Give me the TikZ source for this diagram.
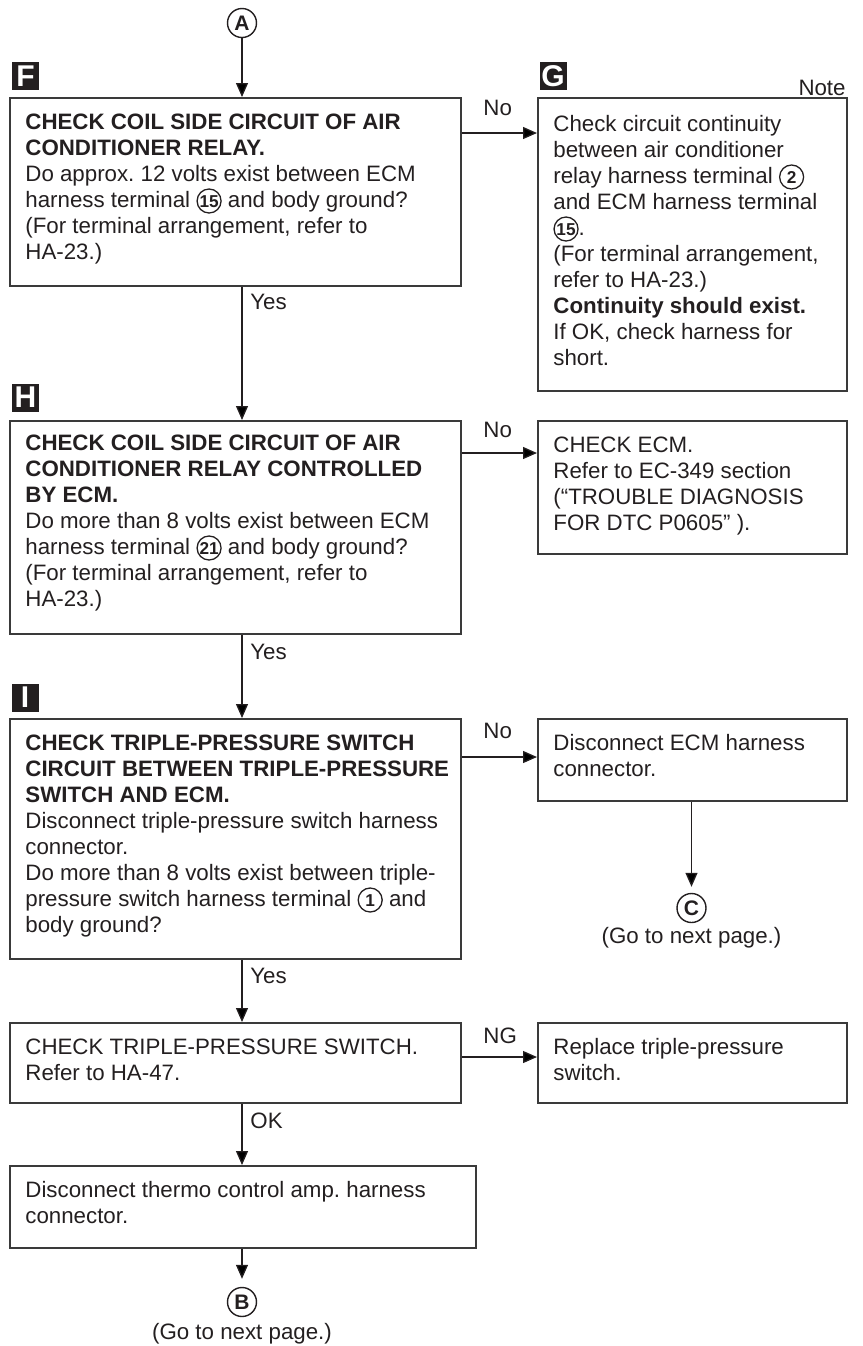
\documentclass[tikz,border=0pt]{standalone}
\usepackage{fontspec}
\setmainfont{Liberation Sans}
\usetikzlibrary{arrows.meta, positioning, calc}
\definecolor{inkDark}{HTML}{231F20}
\definecolor{lineDark}{HTML}{3A3A3A}
\frenchspacing
\newcommand{\bodyfont}{\fontsize{11.15}{13}\selectfont}
% circled terminal number inside running text
\newcommand{\cnum}[1]{\tikz[baseline=(cn.base)]\node[circle, draw=inkDark,
  line width=0.65pt, inner sep=0pt, minimum size=12pt, text height=6pt,
  text depth=0pt, font=\bfseries\fontsize{8.6}{8.6}\selectfont] (cn) {#1};}
\tikzset{
  flowarrow/.style={-{Triangle[length=7pt, width=6pt]}, draw=inkDark, line width=0.65pt},
  stepbox/.style={rectangle, draw=lineDark, line width=1pt, anchor=north west, inner sep=0pt},
  boxtext/.style={anchor=base west, inner sep=0pt, text=inkDark, font=\bodyfont},
  marker/.style={rectangle, fill=inkDark, text=white, inner sep=0pt, minimum width=13.5pt,
                 minimum height=14pt, font=\bfseries\fontsize{15}{15}\selectfont},
  connector/.style={circle, draw=inkDark, line width=0.7pt, inner sep=0pt, minimum size=14.5pt,
                    text=inkDark, font=\bfseries\fontsize{10.5}{10.5}\selectfont},
  lbl/.style={anchor=base west, inner sep=0pt, text=inkDark, font=\bodyfont},
}

\begin{document}
\begin{tikzpicture}[x=0.5pt, y=-0.5pt, font=\bodyfont]
  \useasboundingbox (0,0) rectangle (863,1346);

  % entry A, step F
  \node[connector] (A) at (242,23) {A};
  \node[marker] (mF) at (25.5,76) {F};
  \node[stepbox, minimum width=225.5pt, minimum height=94pt] (F) at (9,97) {};
  \node[boxtext] (Ft) at ([shift={(16,32)}]F.north west) {\parbox[t]{215pt}{\raggedright
    \textbf{CHECK COIL SIDE CIRCUIT OF AIR}\\
    \textbf{CONDITIONER RELAY.}\\
    Do approx. 12 volts exist between ECM\\
    harness terminal \cnum{15} and body ground?\\
    (For terminal arrangement, refer to\\
    HA-23.)}};

  % step G
  \node[marker] (mG) at (553,76) {G};
  \node[lbl, anchor=base east] (note) at (846,95) {Note};
  \node[stepbox, minimum width=154.5pt, minimum height=146.5pt] (G) at (537,97) {};
  \node[boxtext] (Gt) at ([shift={(16,34)}]G.north west) {\parbox[t]{145pt}{\raggedright
    Check circuit continuity\\
    between air conditioner\\
    relay harness terminal \cnum{2}\\
    and ECM harness terminal\\
    \cnum{15}.\\
    (For terminal arrangement,\\
    refer to HA-23.)\\
    \textbf{Continuity should exist.}\\
    If OK, check harness for\\
    short.}};

  % step H
  \node[marker] (mH) at (25.5,397.5) {H};
  \node[stepbox, minimum width=225.5pt, minimum height=106.5pt] (H) at (9,420) {};
  \node[boxtext] (Ht) at ([shift={(16,30)}]H.north west) {\parbox[t]{215pt}{\raggedright
    \textbf{CHECK COIL SIDE CIRCUIT OF AIR}\\
    \textbf{CONDITIONER RELAY CONTROLLED}\\
    \textbf{BY ECM.}\\
    Do more than 8 volts exist between ECM\\
    harness terminal \cnum{21} and body ground?\\
    (For terminal arrangement, refer to\\
    HA-23.)}};
  \node[stepbox, minimum width=154.5pt, minimum height=66.5pt] (ecm) at (537,420) {};
  \node[boxtext] (ecmt) at ([shift={(16,32)}]ecm.north west) {\parbox[t]{145pt}{\raggedright
    CHECK ECM.\\
    Refer to EC-349 section\\
    (“TROUBLE DIAGNOSIS\\
    FOR DTC P0605” ).}};

  % step I
  \node[marker] (mI) at (25,697.5) {I};
  \node[stepbox, minimum width=225.5pt, minimum height=120pt] (I) at (9,718) {};
  \node[boxtext] (It) at ([shift={(16,32)}]I.north west) {\parbox[t]{215pt}{\raggedright
    \textbf{CHECK TRIPLE-PRESSURE SWITCH}\\
    \textbf{CIRCUIT BETWEEN TRIPLE-PRESSURE}\\
    \textbf{SWITCH AND ECM.}\\
    Disconnect triple-pressure switch harness\\
    connector.\\
    Do more than 8 volts exist between triple-\\
    pressure switch harness terminal \cnum{1} and\\
    body ground?}};
  \node[stepbox, minimum width=154.5pt, minimum height=41pt] (dis) at (537,718) {};
  \node[boxtext] (dist) at ([shift={(16,32)}]dis.north west) {\parbox[t]{145pt}{\raggedright
    Disconnect ECM harness\\
    connector.}};
  \node[connector] (C) at (691.5,908) {C};
  \node[lbl, anchor=base] (goC) at (691.5,943) {(Go to next page.)};

  % switch check and thermo amp
  \node[stepbox, minimum width=225.5pt, minimum height=40pt] (sw) at (9,1022) {};
  \node[boxtext] (swt) at ([shift={(16,32)}]sw.north west) {\parbox[t]{215pt}{\raggedright
    CHECK TRIPLE-PRESSURE SWITCH.\\
    Refer to HA-47.}};
  \node[stepbox, minimum width=154.5pt, minimum height=40pt] (rep) at (537,1022) {};
  \node[boxtext] (rept) at ([shift={(16,32)}]rep.north west) {\parbox[t]{145pt}{\raggedright
    Replace triple-pressure\\
    switch.}};
  \node[stepbox, minimum width=233pt, minimum height=41pt] (amp) at (9,1165) {};
  \node[boxtext] (ampt) at ([shift={(16,32)}]amp.north west) {\parbox[t]{225pt}{\raggedright
    Disconnect thermo control amp. harness\\
    connector.}};
  \node[connector] (B) at (242,1302) {B};
  \node[lbl, anchor=base] (goB) at (242,1339) {(Go to next page.)};

  % branch labels
  \node[lbl] (noF) at (483,115) {No};
  \node[lbl] (noH) at (483,437) {No};
  \node[lbl] (noI) at (483,738) {No};
  \node[lbl] (ngS) at (483,1043) {NG};
  \node[lbl] (yesF) at (250,309) {Yes};
  \node[lbl] (yesH) at (250,659) {Yes};
  \node[lbl] (yesI) at (250,983) {Yes};
  \node[lbl] (okS) at (250,1128) {OK};

  % connectors
  \draw[flowarrow] (A) -- (A |- F.north);
  \draw[flowarrow] (A |- F.south) -- (A |- H.north);
  \draw[flowarrow] (A |- H.south) -- (A |- I.north);
  \draw[flowarrow] (A |- I.south) -- (A |- sw.north);
  \draw[flowarrow] (A |- sw.south) -- (A |- amp.north);
  \draw[flowarrow, shorten >=4pt] (A |- amp.south) -- (B.north);
  \draw[flowarrow] ([shift={(0,36)}]F.north east) -- ([shift={(0,36)}]F.north east -| G.west);
  \draw[flowarrow] ([shift={(0,33)}]H.north east) -- ([shift={(0,33)}]H.north east -| ecm.west);
  \draw[flowarrow] ([shift={(0,39)}]I.north east) -- ([shift={(0,39)}]I.north east -| dis.west);
  \draw[flowarrow] ([shift={(0,35)}]sw.north east) -- ([shift={(0,35)}]sw.north east -| rep.west);
  \draw[flowarrow, shorten >=3pt] (C |- dis.south) -- (C.north);
\end{tikzpicture}
\end{document}
